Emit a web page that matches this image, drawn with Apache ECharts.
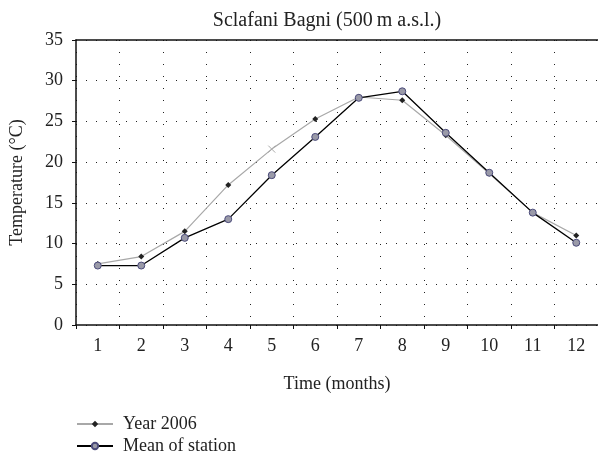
<!DOCTYPE html>
<html>
<head>
    <meta charset="utf-8">
    <title>Sclafani Bagni</title>
    <script src="https://cdn.jsdelivr.net/npm/echarts@6/dist/echarts.min.js"></script>
</head>
<body style="margin:0;background:#fff;">
    <div id="main" style="width:598px;height:457px;"></div>
    <script type="text/javascript">
        // months
        var months = ['1', '2', '3', '4', '5', '6', '7', '8', '9', '10', '11', '12'];
        // Year 2006
        var year2006 = [7.5, 8.4, 11.5, 17.2, 21.6, 25.3, 28.0, 27.6, 23.3, 18.6, 13.8, 11.0];
        // Mean of station
        var meanStation = [7.3, 7.3, 10.7, 13.0, 18.4, 23.1, 27.9, 28.7, 23.6, 18.7, 13.8, 10.1];
        var yTicks = [0, 5, 10, 15, 20, 25, 30, 35];

        var font = 'Liberation Serif';
        var myChart = echarts.init(document.getElementById('main'));

        // month 5 of 2006 is drawn as a light cross in the source
        var yearData = year2006.map(function (v, i) {
            if (i === 4) {
                return { value: v, symbol: 'path://M0,0L10,10M10,0L0,10', symbolSize: 7,
                    itemStyle: { color: 'none', borderColor: '#aaa', borderWidth: 1 } };
            }
            return v;
        });

        var legendText = { fontFamily: font, fontSize: 18, color: '#222', padding: [0, 0, 0, 5] };

        var option = {
            animation: false,
            title: {
                text: 'Sclafani Bagni (500\u2009m a.s.l.)',
                left: 322, top: 6, textAlign: 'center',
                textStyle: { fontFamily: font, fontSize: 20, fontWeight: 'normal', color: '#222' }
            },
            legend: [{
                left: 71, top: 410,
                itemWidth: 36, itemHeight: 8,
                textStyle: legendText,
                data: ['Year 2006']
            }, {
                left: 71, top: 432,
                itemWidth: 36, itemHeight: 8,
                textStyle: legendText,
                data: ['Mean of station']
            }],
            grid: { left: 76, right: 0, top: 40, bottom: 132 },
            xAxis: [{
                type: 'category',
                data: months,
                boundaryGap: true,
                name: 'Time (months)',
                nameLocation: 'middle',
                nameGap: 50,
                nameTextStyle: { fontFamily: font, fontSize: 18, color: '#222' },
                axisLine: { lineStyle: { color: '#111', width: 1.5 } },
                axisTick: { show: true, length: 4, lineStyle: { color: '#111' } },
                axisLabel: { fontFamily: font, fontSize: 18, color: '#222', margin: 12 },
                splitLine: { show: true, lineStyle: { color: '#222', width: 1, type: [1, 11] } }
            }, {
                type: 'category',
                data: months,
                position: 'top',
                axisLine: { lineStyle: { color: '#111', width: 1.5 } },
                axisTick: { show: false },
                axisLabel: { show: false },
                splitLine: { show: false }
            }],
            yAxis: {
                type: 'value',
                min: yTicks[0], max: yTicks[yTicks.length - 1], interval: 5,
                name: 'Temperature (\u00b0C)',
                nameLocation: 'middle',
                nameGap: 50,
                nameTextStyle: { fontFamily: font, fontSize: 18, color: '#222' },
                axisLine: { show: true, lineStyle: { color: '#111', width: 1.5 } },
                axisTick: { show: true, length: 4, lineStyle: { color: '#111' } },
                axisLabel: { fontFamily: font, fontSize: 18, color: '#222', margin: 13 },
                splitLine: { show: true, lineStyle: { color: '#222', width: 1, type: [1, 9] } }
            },
            series: [
                {
                    name: 'Year 2006',
                    type: 'line',
                    data: yearData,
                    symbol: 'diamond',
                    symbolSize: 6,
                    lineStyle: { color: '#a8a8a8', width: 1.2 },
                    itemStyle: { color: '#222' },
                    z: 2
                },
                {
                    name: 'Mean of station',
                    type: 'line',
                    data: meanStation,
                    symbol: 'circle',
                    symbolSize: 7,
                    lineStyle: { color: '#000', width: 1.3 },
                    itemStyle: { color: '#9a9aa8', borderColor: '#4a4a7a', borderWidth: 1 },
                    z: 3
                }
            ]
        };
        myChart.setOption(option);
    </script>
</body>
</html>
